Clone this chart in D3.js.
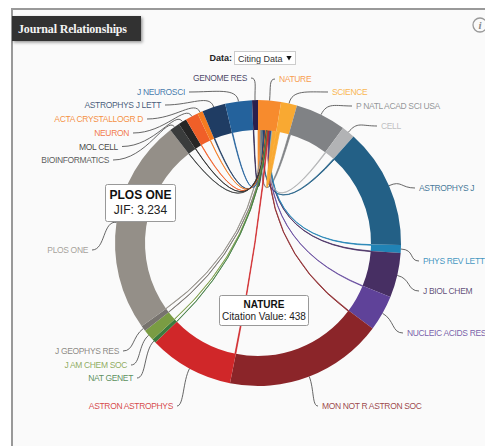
<!DOCTYPE html>
<html>
<head>
<meta charset="utf-8" />
<script src="https://d3js.org/d3.v7.min.js"></script>
<style>
    html, body { margin: 0; padding: 0; background: #fff; overflow: hidden; }
    text { font-family: "Liberation Sans", Arial, sans-serif; }
</style>
</head>
<body>
<div id="visu"></div>
<script>
    // Journals clockwise from the top of the ring
    const journals = ["NATURE", "SCIENCE", "P NATL ACAD SCI USA", "CELL", "ASTROPHYS J", "PHYS REV LETT",
        "J BIOL CHEM", "NUCLEIC ACIDS RES", "MON NOT R ASTRON SOC", "ASTRON ASTROPHYS", "NAT GENET",
        "J AM CHEM SOC", "J GEOPHYS RES", "PLOS ONE", "BIOINFORMATICS", "MOL CELL", "NEURON",
        "ACTA CRYSTALLOGR D", "ASTROPHYS J LETT", "J NEUROSCI", "GENOME RES"];

    // Total citing value of each journal (read from the arc lengths)
    const totals = [8150, 5700, 18130, 4730, 42840, 2800, 15940, 12700, 56590, 30310, 1400,
        4120, 1930, 76900, 3680, 2980, 4560, 1930, 8320, 9550, 2100];

    // Value of each journal towards NATURE
    const toNature = [1050, 1490, 790, 350, 480, 310, 350, 260, 350, 438, 130,
        175, 130, 175, 130, 130, 220, 175, 310, 310, 260];

    // Order of the ribbons inside the NATURE arc
    const natureOrder = ["NATURE", "P NATL ACAD SCI USA", "ASTROPHYS J", "PLOS ONE", "GENOME RES", "J NEUROSCI",
        "ASTROPHYS J LETT", "ACTA CRYSTALLOGR D", "NEURON", "MOL CELL", "BIOINFORMATICS", "J GEOPHYS RES",
        "J AM CHEM SOC", "NAT GENET", "ASTRON ASTROPHYS", "MON NOT R ASTRON SOC", "NUCLEIC ACIDS RES",
        "J BIOL CHEM", "PHYS REV LETT", "CELL", "SCIENCE"];

    const couleurs = ["#f78b2d", "#f9a932", "#808285", "#b2b3b5", "#236086", "#2183b5",
        "#472f63", "#5f4299", "#8b2529", "#d02729", "#3c7a3d",
        "#7a9c43", "#77736e", "#948f88", "#3a3c3c", "#262626", "#f05f28",
        "#f47b20", "#1f3c63", "#24629c", "#2a1f4d"];

    // Where each label ends up: the connector end x, and the y of the label
    const labelX = [275, 328, 352, 377, 415, 419, 419, 403, 318, 177, 137, 131, 123, 92, 113, 122, 133, 147, 165, 189, 251];
    const labelY = [79, 92, 106, 126, 188, 261, 291, 333, 406, 406, 378, 365, 351, 250, 160, 146.5, 133, 119, 105, 92, 78];

    const largeur = 485;
    const hauteur = 446;
    const centre = {x: 258, y: 243};
    const rayonInt = 113;
    const rayonExt = 143;

    const svg = d3.select('#visu').append('svg')
        .attr('width', largeur)
        .attr('height', hauteur)
        .style('display', 'block');

    // Panel
    svg.append('rect').attr('x', 12).attr('y', 9).attr('width', 490).attr('height', 450)
        .attr('fill', '#fafafa').attr('stroke', '#999').attr('stroke-width', 2);

    const defs = svg.append('defs');
    const ombre = defs.append('filter').attr('id', 'ombre').attr('x', '-10%').attr('y', '-20%').attr('width', '125%').attr('height', '150%');
    ombre.append('feDropShadow').attr('dx', 1.5).attr('dy', 1.5).attr('stdDeviation', 1.5).attr('flood-color', '#000').attr('flood-opacity', 0.4);

    svg.append('rect').attr('x', 12).attr('y', 16).attr('width', 129).attr('height', 25)
        .attr('fill', '#333').attr('filter', 'url(#ombre)');
    svg.append('text').attr('x', 18).attr('y', 33)
        .attr('fill', '#f4f4f4').attr('font-size', 12).attr('font-weight', 'bold')
        .style('font-family', '"Liberation Serif", serif')
        .attr('textLength', 109)
        .text('Journal Relationships');

    // Info icon
    svg.append('circle').attr('cx', 480).attr('cy', 25).attr('r', 7)
        .attr('fill', 'none').attr('stroke', '#999').attr('stroke-width', 1.3);
    svg.append('text').attr('x', 480).attr('y', 29).attr('text-anchor', 'middle')
        .attr('fill', '#888').attr('font-size', 11).attr('font-style', 'italic').attr('font-weight', 'bold')
        .style('font-family', '"Liberation Serif", serif').text('i');

    // Data selector
    svg.append('text').attr('x', 232).attr('y', 61).attr('text-anchor', 'end')
        .attr('font-size', 9).attr('font-weight', 'bold').attr('fill', '#222').text('Data:');
    svg.append('rect').attr('x', 234.5).attr('y', 51.5).attr('width', 61).attr('height', 13)
        .attr('fill', '#fff').attr('stroke', '#ccc');
    svg.append('text').attr('x', 238).attr('y', 61.5).attr('font-size', 9).attr('fill', '#333').text('Citing Data');
    svg.append('path').attr('d', d3.symbol(d3.symbolTriangle, 12)())
        .attr('transform', 'translate(289,57.5) rotate(180)').attr('fill', '#111');

    const g = svg.append('g').attr('transform', `translate(${centre.x},${centre.y})`);

    // Ring
    const pie = d3.pie().sort(null).value(d => d);
    const arcs = pie(totals);
    const arc = d3.arc().innerRadius(rayonInt).outerRadius(rayonExt);
    const parRadian = d3.sum(totals) / (2 * Math.PI);

    // Ribbons, all going to the NATURE arc. Each one leaves from the start of its journal arc
    let curseur = arcs[0].startAngle;
    const rubans = natureOrder.map(nom => {
        const i = journals.indexOf(nom);
        const largeurAngle = toNature[i] / parRadian;
        const cible = {startAngle: curseur, endAngle: curseur + largeurAngle, radius: rayonInt};
        curseur += largeurAngle;
        return {
            index: i,
            source: {startAngle: arcs[i].startAngle, endAngle: arcs[i].startAngle + largeurAngle, radius: rayonInt},
            target: cible
        };
    });

    const ruban = d3.ribbon();
    g.selectAll('.ruban')
        .data(rubans)
        .enter()
        .append('path')
        .attr('class', 'ruban')
        .attr('d', ruban)
        .attr('fill', d => couleurs[d.index])
        .attr('stroke', d => couleurs[d.index])
        .attr('stroke-width', 0.7);

    g.selectAll('.secteur')
        .data(arcs)
        .enter()
        .append('path')
        .attr('class', 'secteur')
        .attr('d', arc)
        .attr('fill', (d, i) => couleurs[i]);

    // Connectors and labels
    const milieu = d => (d.startAngle + d.endAngle) / 2;
    const connecteur = (d, i) => {
        const a = milieu(d);
        const x0 = centre.x + rayonExt * Math.sin(a);
        const y0 = centre.y - rayonExt * Math.cos(a);
        const x1 = labelX[i];
        const y1 = labelY[i];
        const sens = x0 > x1 ? 1 : -1;
        const c2 = Math.max(6, Math.abs(x1 - x0) * 0.55);
        return `M${x0},${y0}C${x0 + 14 * Math.sin(a)},${y0 - 14 * Math.cos(a)} ${x1 + sens * c2},${y1} ${x1},${y1}`;
    };

    svg.selectAll('.connecteur')
        .data(arcs)
        .enter()
        .append('path')
        .attr('class', 'connecteur')
        .attr('d', connecteur)
        .attr('fill', 'none')
        .attr('stroke', '#555')
        .attr('stroke-width', 0.9);

    svg.selectAll('.label')
        .data(arcs)
        .enter()
        .append('text')
        .attr('class', 'label')
        .attr('x', (d, i) => labelX[i] + (labelX[i] > centre.x ? 4 : -4))
        .attr('y', (d, i) => labelY[i] + 3)
        .attr('text-anchor', (d, i) => labelX[i] > centre.x ? 'start' : 'end')
        .attr('font-size', 8.5)
        .style('letter-spacing', '-0.35px')
        .attr('fill', (d, i) => couleurs[i])
        .attr('fill-opacity', 0.85)
        .text((d, i) => journals[i]);

    // Tooltips
    function bulle(x, y, l, h, titre, ligne, tailleTitre, tailleLigne, yTitre, yLigne) {
        const b = svg.append('g').attr('transform', `translate(${x},${y})`);
        b.append('rect').attr('width', l).attr('height', h).attr('rx', 2)
            .attr('fill', '#fff').attr('stroke', '#999');
        b.append('text').attr('x', l / 2).attr('y', yTitre).attr('text-anchor', 'middle')
            .attr('font-size', tailleTitre).attr('font-weight', 'bold').attr('fill', '#111').text(titre);
        b.append('text').attr('x', l / 2).attr('y', yLigne).attr('text-anchor', 'middle')
            .attr('font-size', tailleLigne).attr('fill', '#222').text(ligne);
    }
    bulle(105.5, 184.5, 70, 37, 'PLOS ONE', 'JIF: 3.234', 12, 12, 14, 29);
    bulle(219.5, 295.5, 89, 30, 'NATURE', 'Citation Value: ' + toNature[journals.indexOf('ASTRON ASTROPHYS')], 10, 10, 12, 24);
</script>
</body>
</html>
